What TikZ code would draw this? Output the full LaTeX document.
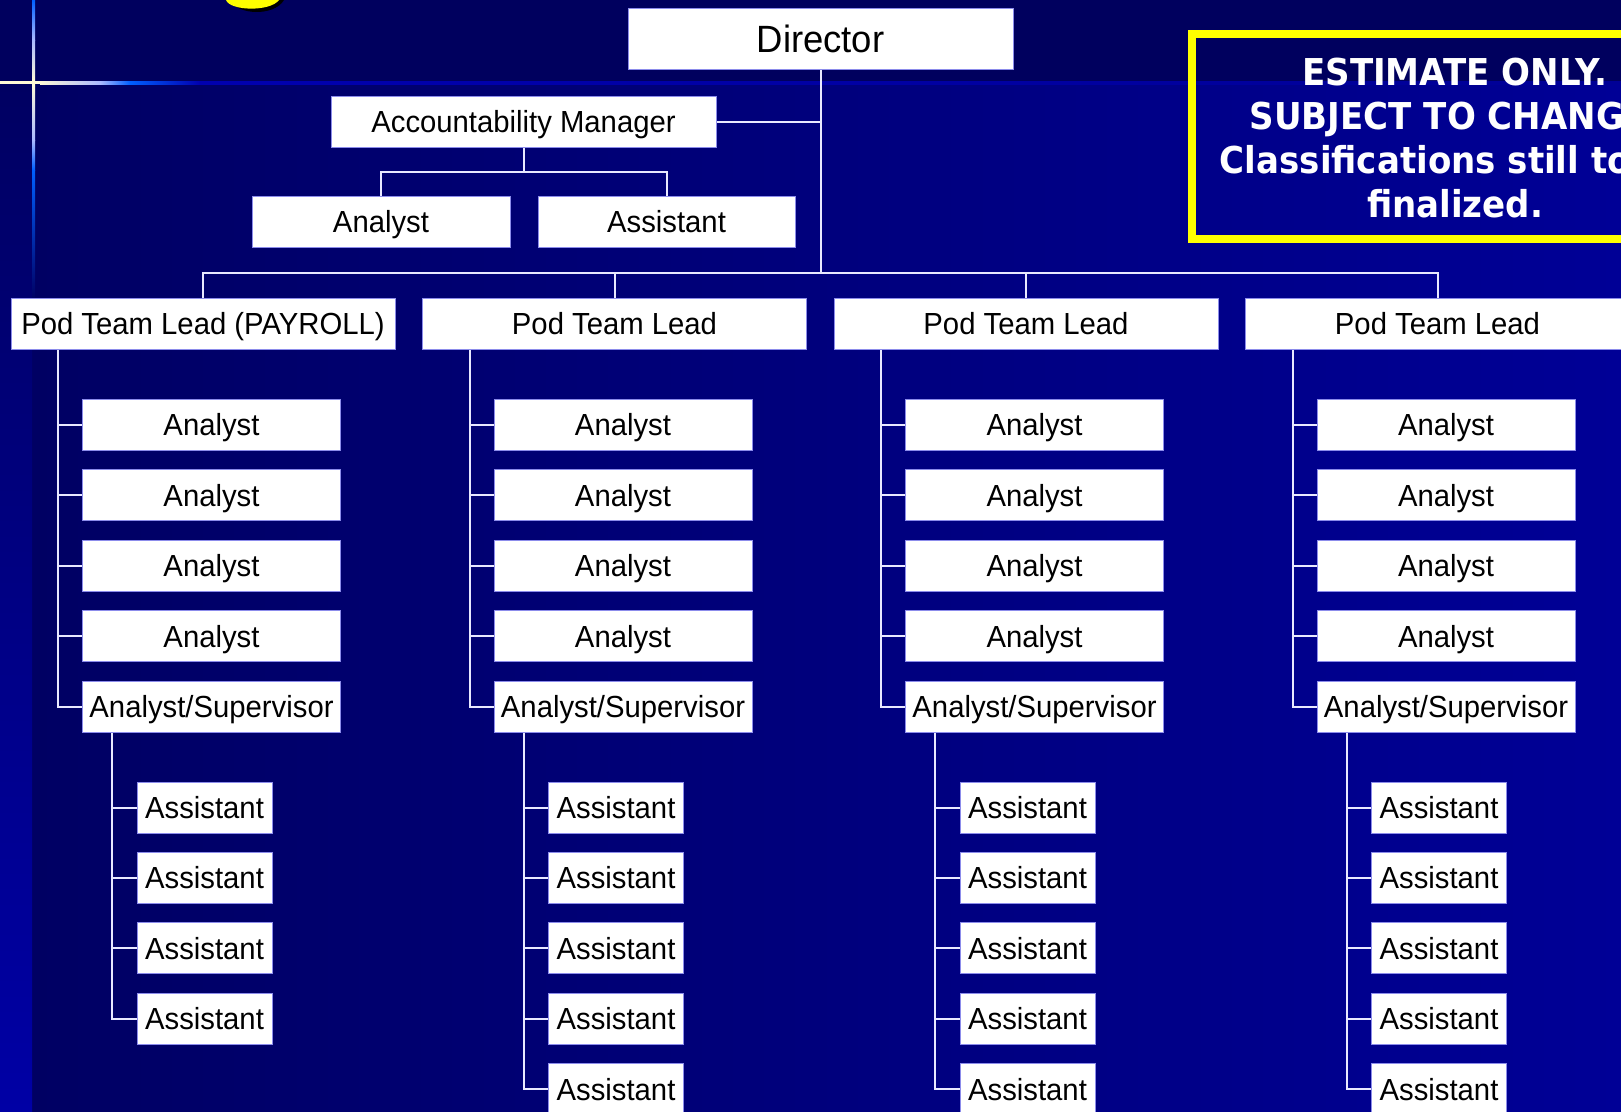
\documentclass[tikz,border=0pt]{standalone}
\usepackage{fontspec}
\setmainfont{Liberation Sans}
\newfontfamily\boxfont{Liberation Sans}[FakeStretch=0.96]
\newfontfamily\notefont{DejaVu Sans Bold}[FakeStretch=0.92]

\definecolor{bgL}{RGB}{0,0,98}
\definecolor{bgR}{RGB}{0,0,150}
\definecolor{bgtop}{RGB}{0,0,94}
\definecolor{stripB}{RGB}{0,0,165}
\definecolor{glintcream}{RGB}{255,250,215}
\definecolor{glintpale}{RGB}{170,185,255}
\definecolor{glintblue}{RGB}{0,95,255}
\definecolor{glintdark}{RGB}{0,0,175}
\definecolor{boxedge}{RGB}{140,140,235}
\definecolor{linecol}{RGB}{232,232,255}
\definecolor{notey}{RGB}{255,255,0}

\tikzset{
  box/.style={draw=boxedge, line width=1pt, fill=white, text=black,
    inner sep=0pt, minimum height=51pt, text height=21.8pt, text depth=0pt,
    font={\boxfont\fontsize{30.5}{36}\selectfont}},
  conn/.style={draw=linecol, line width=2pt},
  noteframe/.style={draw=notey, line width=8pt},
}

\begin{document}
\begin{tikzpicture}[x=1pt,y=-1pt]
\useasboundingbox (0,0) rectangle (1621,1111);
\clip (0,0) rectangle (1621,1111);

% slide background
\shade[left color=bgL, right color=bgR] (0,0) rectangle (1621,1111);
\fill[bgtop] (0,0) rectangle (1621,81);
\shade[top color=bgL, bottom color=stripB] (0,84) rectangle (32,1111);

% light glint: horizontal rule
\fill[glintcream] (0,81) rectangle (40,84);
\shade[left color=glintcream, right color=glintpale] (40,81) rectangle (100,84);
\shade[left color=glintpale, right color=glintblue] (100,81) rectangle (130,84);
\shade[left color=glintblue, right color=glintdark] (130,81) rectangle (200,84);
\shade[left color=glintdark, right color=bgR] (200,81) rectangle (1621,84);
% light glint: vertical rule
\shade[top color=glintblue, bottom color=glintpale] (32,0) rectangle (35,40);
\shade[top color=glintpale, bottom color=glintcream] (32,40) rectangle (35,81);
\shade[top color=glintcream, bottom color=glintpale] (32,84) rectangle (35,140);
\shade[top color=glintpale, bottom color=glintblue] (32,140) rectangle (35,170);
\shade[top color=glintblue, bottom color=bgL] (32,170) rectangle (35,300);

% yellow title mark at the top edge
\fill[black] (231,0) .. controls (236,15) and (274,17) .. (284,0) -- cycle;
\fill[notey] (226,0) .. controls (230,11) and (270,12) .. (279,0) -- cycle;

% note frame
\draw[noteframe] (1192,34) rectangle (1745,239);
\node[font={\notefont\fontsize{37}{44}\selectfont}, text=white, align=center,
      anchor=north, inner sep=0pt] (note) at (1455,58)
  {ESTIMATE ONLY.\\SUBJECT TO CHANGE.\\Classifications still to be\\finalized.};

% head of the unit
\node[box, minimum width=385pt, minimum height=61pt, text height=27.2pt,
      font={\boxfont\fontsize{38}{44}\selectfont}] (dir) at (820.5,39) {Director};
\node[box, minimum width=385pt] (am) at (523.5,121.5) {Accountability Manager};
\node[box, minimum width=258pt] (aman) at (381,222) {Analyst};
\node[box, minimum width=257pt] (amas) at (666.5,222) {Assistant};

\coordinate (bus) at (820.5,273);
\coordinate (amfork) at (523.5,172);
\draw[conn] (dir.south) -- (bus);
\draw[conn] (am.east) -- (am.east -| dir.south);
\draw[conn] (am.south) -- (amfork);
\draw[conn] (amfork) -| (aman.north);
\draw[conn] (amfork) -| (amas.north);

% the four pods
\foreach \k in {1,...,4}{
  \pgfmathsetmacro\dx{411.5*(\k-1)}
  \ifnum\k=1 \def\podtext{Pod Team Lead (PAYROLL)}\def\nast{4}%
  \else \def\podtext{Pod Team Lead}\def\nast{5}\fi
  \node[box, minimum width=384pt] (pod-\k) at ({\dx+203},323.5) {\podtext};
  \draw[conn] (bus) -| (pod-\k.north);
  \coordinate (lv-\k) at ({\dx+58},350);
  \foreach \i in {1,...,4}{
    \pgfmathsetmacro\yy{425+70.4*(\i-1)}
    \node[box, minimum width=258pt] (an-\k-\i) at ({\dx+211.5},\yy) {Analyst};
    \draw[conn] (an-\k-\i.west -| lv-\k) -- (an-\k-\i.west);
  }
  \node[box, minimum width=258pt] (sup-\k) at ({\dx+211.5},706.6) {Analyst/Supervisor};
  \draw[conn] (lv-\k) |- (sup-\k.west);
  \coordinate (sv-\k) at ({\dx+112},733);
  \foreach \i in {1,...,\nast}{
    \pgfmathsetmacro\yy{807.5+70.4*(\i-1)}
    \node[box, minimum width=135pt] (ast-\k-\i) at ({\dx+204.5},\yy) {Assistant};
    \draw[conn] (ast-\k-\i.west -| sv-\k) -- (ast-\k-\i.west);
  }
  \draw[conn] (sv-\k) |- (ast-\k-\nast.west);
}
\end{tikzpicture}
\end{document}
